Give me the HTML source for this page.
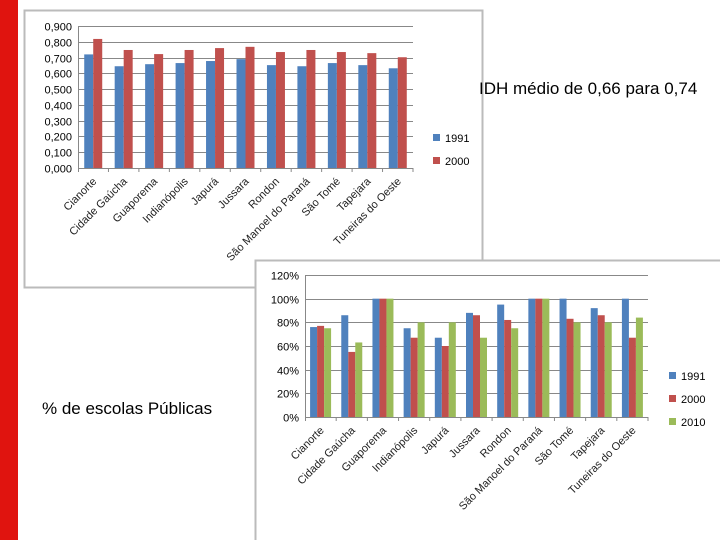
<!DOCTYPE html>
<html><head><meta charset="utf-8"><style>
body{margin:0;width:720px;height:540px;overflow:hidden;background:#fff;font-family:"Liberation Sans",sans-serif;position:relative}
.abs{position:absolute}
</style></head><body>
<div class="abs" style="left:0;top:0;width:18px;height:540px;background:#e0140f"></div>
<svg class="abs" style="left:0;top:0" width="720" height="540">
<rect x="24.5" y="10.5" width="458" height="277" fill="#fff" stroke="#bbb" stroke-width="2"/>
<g id="c1"></g>
<rect x="255.5" y="260.5" width="470" height="290" fill="#fff" stroke="#bbb" stroke-width="2"/>
<g id="c2"></g>
</svg>
<div class="abs" style="left:479px;top:79px;font-size:17px;color:#000;z-index:2">IDH médio de 0,66 para 0,74</div>
<div class="abs" style="left:42px;top:399px;font-size:17px;color:#000;z-index:2">% de escolas Públicas</div>
<script>
const cats1=["Cianorte","Cidade Gaúcha","Guaporema","Indianópolis","Japurá","Jussara","Rondon","São Manoel do Paraná","São Tomé","Tapejara","Tuneiras do Oeste"];
const idh1991=[0.72,0.645,0.658,0.665,0.678,0.69,0.652,0.645,0.665,0.652,0.632];
const idh2000=[0.818,0.748,0.722,0.748,0.76,0.768,0.735,0.748,0.735,0.728,0.702];
const ticks1=["0,000","0,100","0,200","0,300","0,400","0,500","0,600","0,700","0,800","0,900"];
const cats2=["Cianorte","Cidade Gaúcha","Guaporema","Indianópolis","Japurá","Jussara","Rondon","São Manoel do Paraná","São Tomé","Tapejara","Tuneiras do Oeste"];
const esc1991=[76,86,100,75,67,88,95,100,100,92,100];
const esc2000=[77,55,100,67,60,86,82,100,83,86,67];
const esc2010=[75,63,100,80,80,67,75,100,80,80,84];
const ticks2=["0%","20%","40%","60%","80%","100%","120%"];
const NS="http://www.w3.org/2000/svg";
function mk(p,t,a){const e=document.createElementNS(NS,t);for(const k in a)e.setAttribute(k,a[k]);p.appendChild(e);return e;}
function chart(g,o){
 const {x0,x1,y0,y1,max,cats,series,colors,names,ticks,bw,lx,ly}=o;
 const ys=v=>y0-(v/max)*(y0-y1);
 const cw=(x1-x0)/cats.length;
 ticks.forEach((t,i)=>{const v=i*max/(ticks.length-1);const y=Math.round(ys(v))+0.5;
  const l=mk(g,'line',{x1:x0,x2:x1,y1:y,y2:y,stroke:'#888','stroke-width':1});
  
  
  const tx=mk(g,'text',{x:x0-6,y:y+4,'text-anchor':'end','font-size':11,fill:'#000'});tx.textContent=t;
  
  
 });
 mk(g,'line',{x1:x0+0.5,x2:x0+0.5,y1:y1,y2:y0+4,stroke:'#888'});
 cats.forEach((c,i)=>{
  const cx=x0+cw*(i+0.5);
  mk(g,'line',{x1:x0+cw*(i+1),x2:x0+cw*(i+1),y1:y0,y2:y0+4,stroke:'#888'});
  const n=series.length;
  series.forEach((s,j)=>{const bx=cx-n*bw/2+j*bw;const y=ys(s[i]);
   const r=mk(g,'rect',{x:bx,y:y,width:bw,height:y0-y,fill:colors[j]});
   
   
  });
  const t=mk(g,'text',{x:cx+4,y:y0+14,'text-anchor':'end','font-size':11,fill:'#222',transform:`rotate(-45 ${cx+4} ${y0+14})`});
  t.textContent=c;
  
  
 });
 names.forEach((nm,j)=>{
  const r=mk(g,'rect',{x:lx,y:ly+j*23-8,width:7,height:7,fill:colors[j]});
  
  
  const t=mk(g,'text',{x:lx+12,y:ly+j*23,'font-size':11,fill:'#000'});t.textContent=nm;
  
  
 });
}
chart(document.getElementById('c1'),{x0:78,x1:413,y0:168,y1:26,max:0.9,cats:cats1,series:[idh1991,idh2000],colors:['#4F81BD','#C0504D'],names:['1991','2000'],ticks:ticks1,bw:9,lx:433,ly:142});
chart(document.getElementById('c2'),{x0:305,x1:648,y0:417,y1:275,max:120,cats:cats2,series:[esc1991,esc2000,esc2010],colors:['#4F81BD','#C0504D','#9BBB59'],names:['1991','2000','2010'],ticks:ticks2,bw:7,lx:669,ly:380});
</script>
</body></html>
